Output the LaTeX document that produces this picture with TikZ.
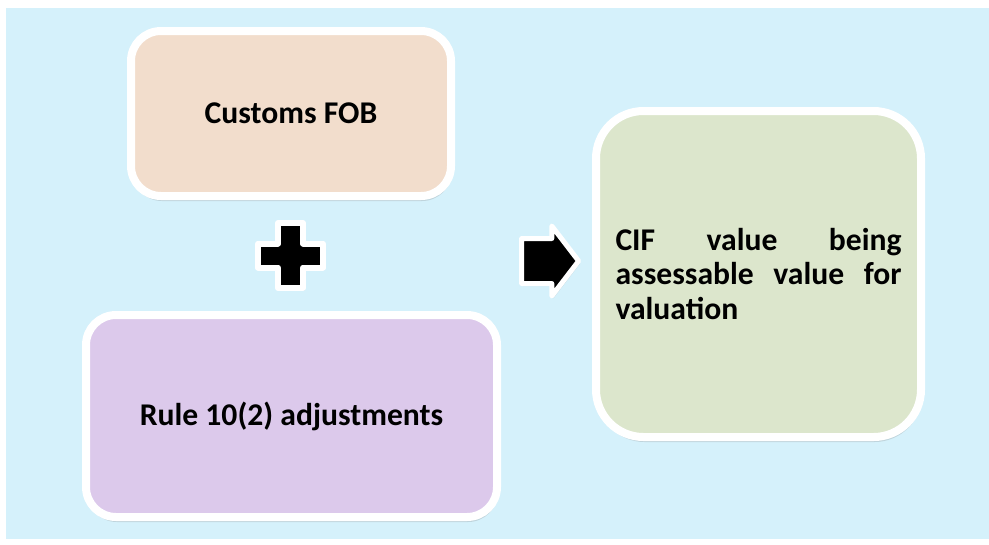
\documentclass[tikz,border=0pt]{standalone}
\usepackage{fontspec}
\setmainfont{Carlito}
\usetikzlibrary{shapes.arrows, shadows}
\definecolor{bgblue}{HTML}{D5F1FB}
\definecolor{fobfill}{HTML}{F2DDCC}
\definecolor{rulefill}{HTML}{DCC9EB}
\definecolor{ciffill}{HTML}{DCE6CC}

\begin{document}
\begin{tikzpicture}[
    valbox/.style={draw=white, line width=0.16cm, rounded corners=0.6cm, inner sep=0pt,
        font=\fontsize{18}{19.7}\selectfont\bfseries,
        drop shadow={opacity=0.25, shadow xshift=0.02cm, shadow yshift=-0.1cm}},
    signmark/.style={draw=white, line width=0.12cm, fill=black, line join=round,
        drop shadow={opacity=0.25, shadow xshift=0.03cm, shadow yshift=-0.05cm}}
]
                % Background
                \useasboundingbox (0,0) rectangle (19.78,-10.88);
                \fill[bgblue] (0.12,-0.16) rectangle (19.78,-10.78);

                % Left boxes
                \node[valbox, fill=fobfill, minimum width=6.4cm, minimum height=3.3cm] (fob) at (5.82,-2.27) {Customs FOB};
                \node[valbox, fill=rulefill, minimum width=8.22cm, minimum height=4.04cm] (rule) at (5.83,-8.32) {Rule 10(2) adjustments};

                % Plus sign
                \draw[signmark, shift={(5.81,-5.11)}] (-0.25,0.65) -- (0.25,0.65) -- (0.25,0.24) -- (0.65,0.24) -- (0.65,-0.24)
                    -- (0.25,-0.24) -- (0.25,-0.65) -- (-0.25,-0.65) -- (-0.25,-0.24) -- (-0.65,-0.24) -- (-0.65,0.24) -- (-0.25,0.24) -- cycle;

                % Arrow
                \node[signmark, single arrow, line width=0.1cm, minimum height=1.14cm, inner xsep=0pt, inner ysep=0.4cm,
                    single arrow head extend=0.25cm, single arrow tip angle=105] (arr) at (10.83,-5.22) {};

                % Result box
                \node[valbox, fill=ciffill, rounded corners=0.95cm, minimum width=6.5cm, minimum height=6.52cm,
                    text width=5.72cm, align=justify] (cif) at (15.17,-5.48)
                    {\hyphenpenalty=10000 CIF value being\linebreak assessable value for\linebreak valuation};
\end{tikzpicture}
\end{document}
